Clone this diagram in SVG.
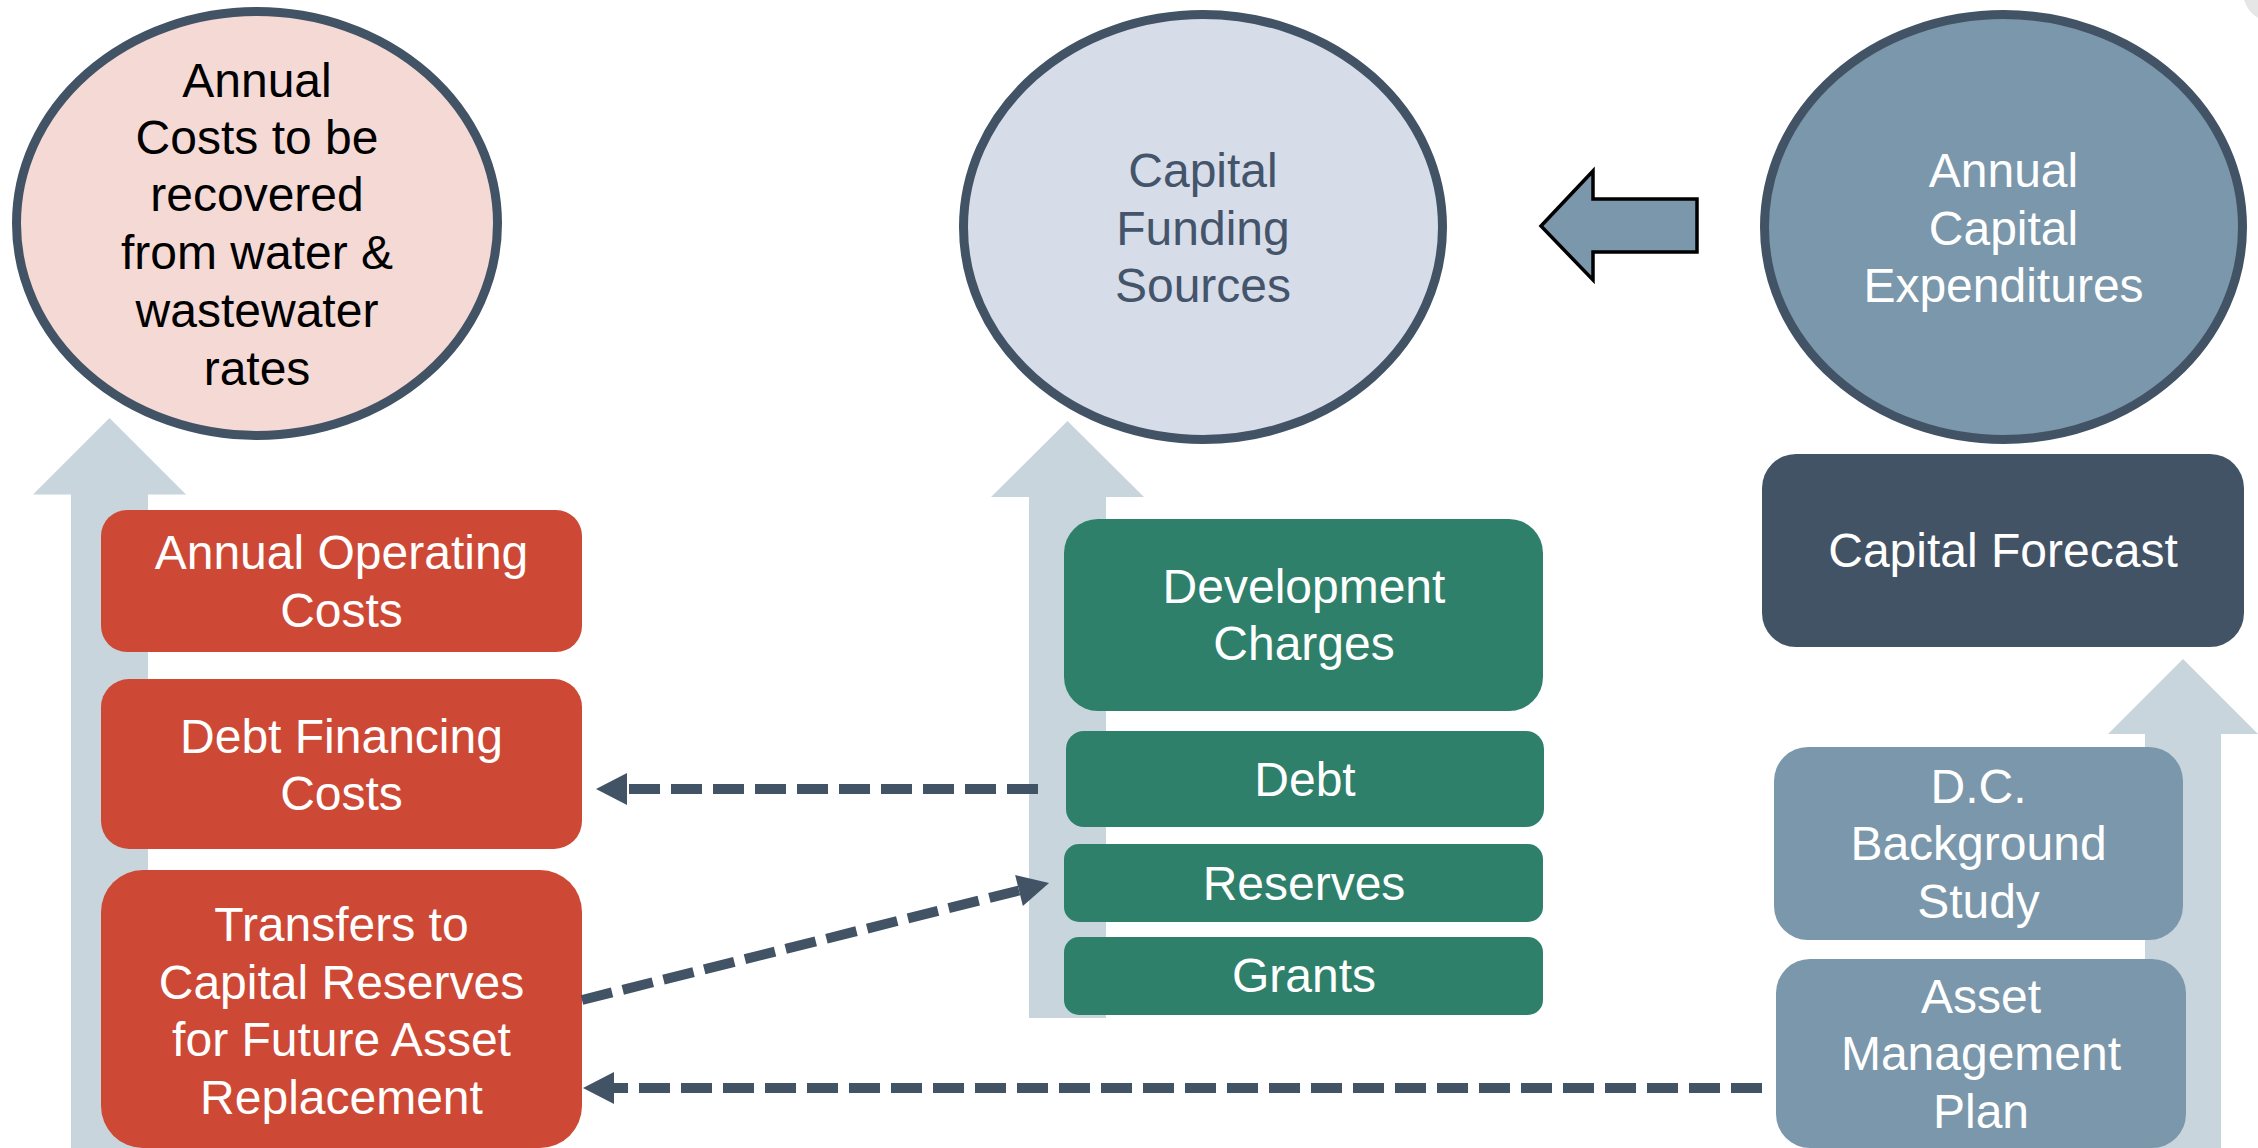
<svg xmlns="http://www.w3.org/2000/svg" width="2258" height="1148" viewBox="0 0 2258 1148">
  <style>
    text { font-family: "Liberation Sans", Arial, sans-serif; font-size: 48px; text-anchor: middle; }
    .lt { fill: #ffffff; }
    .oval { stroke: #425366; stroke-width: 9; }
    .up { fill: #c8d5dd; }
    .red { fill: #cd4936; }
    .green { fill: #2e806b; }
    .slate { fill: #425366; }
    .steel { fill: #7b97ab; }
    .dash { fill: none; stroke: #425366; stroke-width: 10; stroke-dasharray: 31 11; }
  </style>
  <defs>
    <marker id="head" markerUnits="userSpaceOnUse" markerWidth="32" markerHeight="32" refX="0" refY="16" orient="auto" overflow="visible">
      <path d="M0,0 L31,16 L0,32 Z" fill="#425366"/>
    </marker>
  </defs>

  <rect width="2258" height="1148" fill="#ffffff"/>
  <!-- corner fragment -->
  <path d="M2244,0 Q2248,12 2258,18 L2258,0 Z" fill="#e6e6e6"/>

  <!-- wide upward arrows behind the stacks -->
  <g id="flow-arrows">
    <polygon class="up" points="109.5,418 186,494.5 148,494.5 148,1148 71,1148 71,494.5 33,494.5"/>
    <polygon class="up" points="1067.5,421 1144,497 1106,497 1106,1018 1029,1018 1029,497 991,497"/>
    <polygon class="up" points="2183,659 2258,734 2221,734 2221,1148 2145,1148 2145,734 2108,734"/>
  </g>

  <g id="rate-costs">
    <ellipse class="oval" cx="257" cy="223.5" rx="240.5" ry="212" fill="#f5d9d5"/>
    <text x="257" y="97">Annual</text>
    <text x="257" y="154">Costs to be</text>
    <text x="257" y="211">recovered</text>
    <text x="257" y="269">from water &amp;</text>
    <text x="257" y="327">wastewater</text>
    <text x="257" y="385">rates</text>
  </g>

  <g id="funding-sources">
    <ellipse class="oval" cx="1203" cy="227" rx="239.5" ry="212.5" fill="#d6dce8"/>
    <text x="1203" y="187" fill="#44546a">Capital</text>
    <text x="1203" y="245" fill="#44546a">Funding</text>
    <text x="1203" y="302" fill="#44546a">Sources</text>
  </g>

  <g id="capital-expenditures">
    <ellipse class="oval" cx="2003.5" cy="227" rx="239" ry="212.5" fill="#7b97ab"/>
    <text class="lt" x="2003.5" y="187">Annual</text>
    <text class="lt" x="2003.5" y="245">Capital</text>
    <text class="lt" x="2003.5" y="302">Expenditures</text>
  </g>

  <g id="expenditure-to-funding">
    <polygon points="1541,226 1593,171 1593,199 1697,199 1697,252 1593,252 1593,280" fill="#7b97ab" stroke="#000000" stroke-width="3.5" stroke-linejoin="miter"/>
  </g>

  <g id="operating-costs">
    <rect class="red" x="101" y="510" width="481" height="142" rx="26"/>
    <text class="lt" x="341.5" y="569">Annual Operating</text>
    <text class="lt" x="341.5" y="627">Costs</text>
  </g>
  <g id="debt-financing">
    <rect class="red" x="101" y="679" width="481" height="170" rx="28"/>
    <text class="lt" x="341.5" y="753">Debt Financing</text>
    <text class="lt" x="341.5" y="810">Costs</text>
  </g>
  <g id="reserve-transfers">
    <rect class="red" x="101" y="870" width="481" height="278" rx="42"/>
    <text class="lt" x="341.5" y="941">Transfers to</text>
    <text class="lt" x="341.5" y="999">Capital Reserves</text>
    <text class="lt" x="341.5" y="1056">for Future Asset</text>
    <text class="lt" x="341.5" y="1114">Replacement</text>
  </g>

  <g id="development-charges">
    <rect class="green" x="1064" y="519" width="479" height="192" rx="34"/>
    <text class="lt" x="1304" y="603">Development</text>
    <text class="lt" x="1304" y="660">Charges</text>
  </g>
  <g id="debt">
    <rect class="green" x="1066" y="731" width="478" height="96" rx="18"/>
    <text class="lt" x="1305" y="796">Debt</text>
  </g>
  <g id="reserves">
    <rect class="green" x="1064" y="844" width="479" height="78" rx="15"/>
    <text class="lt" x="1304" y="900">Reserves</text>
  </g>
  <g id="grants">
    <rect class="green" x="1064" y="937" width="479" height="78" rx="15"/>
    <text class="lt" x="1304" y="992">Grants</text>
  </g>

  <g id="capital-forecast">
    <rect class="slate" x="1762" y="454" width="482" height="193" rx="34"/>
    <text class="lt" x="2003" y="567">Capital Forecast</text>
  </g>
  <g id="dc-study">
    <rect class="steel" x="1774" y="747" width="409" height="193" rx="34"/>
    <text class="lt" x="1978.5" y="803">D.C.</text>
    <text class="lt" x="1978.5" y="860">Background</text>
    <text class="lt" x="1978.5" y="918">Study</text>
  </g>
  <g id="asset-plan">
    <rect class="steel" x="1776" y="959" width="410" height="189" rx="34"/>
    <text class="lt" x="1981" y="1013">Asset</text>
    <text class="lt" x="1981" y="1070">Management</text>
    <text class="lt" x="1981" y="1128">Plan</text>
  </g>

  <g id="connectors">
    <path class="dash" d="M1038,789 L627,789" marker-end="url(#head)"/>
    <path class="dash" d="M582,1000 L1019,890.5" marker-end="url(#head)"/>
    <path class="dash" d="M1762,1088 L614,1088" marker-end="url(#head)"/>
  </g>
</svg>
